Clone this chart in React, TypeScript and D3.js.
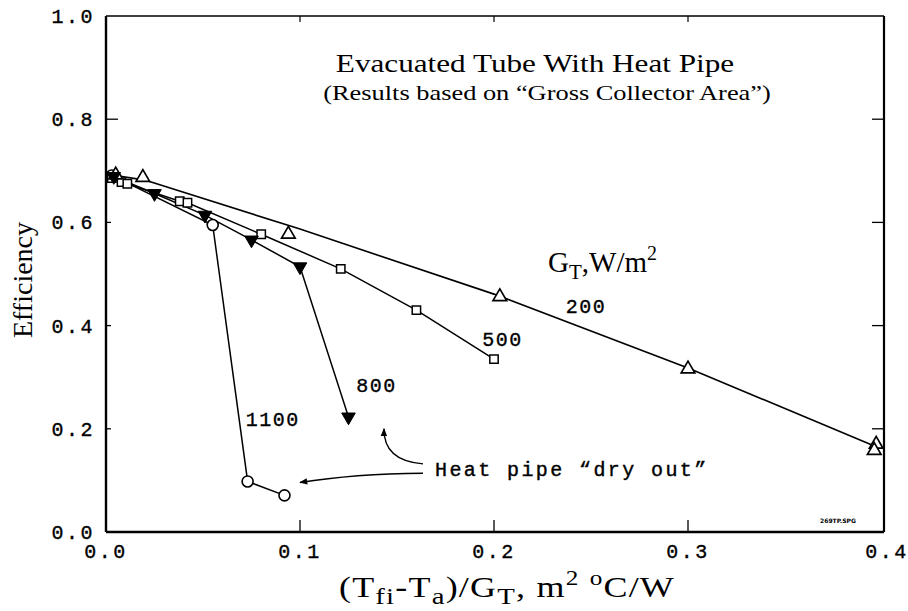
import React from "react";
import * as d3 from "d3";

const W = 908;
const H = 611;

const xTicks = [0.0, 0.1, 0.2, 0.3, 0.4];
const yTicks = [0.0, 0.2, 0.4, 0.6, 0.8, 1.0];

// G_T = 200 W/m2 (open up-triangles)
const s200x = [0.005, 0.019, 0.094, 0.203, 0.3, 0.397, 0.396];
const s200y = [0.692, 0.687, 0.577, 0.456, 0.316, 0.17, 0.158];
// fitted line for 200
const fit200x = [0.005, 0.02, 0.1, 0.2, 0.3, 0.397];
const fit200y = [0.691, 0.682, 0.587, 0.461, 0.318, 0.165];

// G_T = 500 (open squares)
const s500x = [0.003, 0.008, 0.011, 0.038, 0.042, 0.08, 0.121, 0.16, 0.2];
const s500y = [0.686, 0.678, 0.675, 0.641, 0.638, 0.577, 0.51, 0.43, 0.335];

// G_T = 800 (filled down-triangles)
const s800x = [0.004, 0.025, 0.051, 0.075, 0.1, 0.125];
const s800y = [0.689, 0.656, 0.614, 0.566, 0.514, 0.223];

// G_T = 1100 (open circles)
const s1100x = [0.003, 0.055, 0.073, 0.092];
const s1100y = [0.691, 0.595, 0.098, 0.071];

const seriesLabels = ["200", "500", "800", "1100"];
const labelX = [0.237, 0.194, 0.129, 0.072];
const labelY = [0.425, 0.36, 0.272, 0.205];

const left = 106, right = 882, top = 16, bottom = 532;

const x = d3.scaleLinear().domain([0, 0.4]).range([left, right]);
const y = d3.scaleLinear().domain([0, 1]).range([bottom, top]);

const pts = (xs: number[], ys: number[]) => xs.map((v, i) => [v, ys[i]] as [number, number]);
const line = d3.line<[number, number]>().x((d) => x(d[0])).y((d) => y(d[1]));

const mono = "'Liberation Mono', 'DejaVu Sans Mono', monospace";
const serif = "'Liberation Serif', 'DejaVu Serif', serif";

const triUp = d3.symbol().type(d3.symbolTriangle).size(80);
const triDown = d3.symbol().type(d3.symbolTriangle).size(80);
const sq = d3.symbol().type(d3.symbolSquare).size(70);

const SX = 1.2; // horizontal stretch of the scanned lettering

export default function App() {
  const p200 = pts(s200x, s200y);
  const pf200 = pts(fit200x, fit200y);
  const p500 = pts(s500x, s500y);
  const p800 = pts(s800x, s800y);
  const p1100 = pts(s1100x, s1100y);

  // annotation arrows in data space
  const a1s: [number, number] = [0.1634, 0.114];
  const a1c: [number, number] = [0.128, 0.113];
  const a1e: [number, number] = [0.1, 0.096];
  const a2s: [number, number] = [0.1634, 0.132];
  const a2c: [number, number] = [0.143, 0.138];
  const a2e: [number, number] = [0.1433, 0.2];

  const qPath = (s: [number, number], c: [number, number], e: [number, number]) =>
    `M${x(s[0])},${y(s[1])} Q${x(c[0])},${y(c[1])} ${x(e[0])},${y(e[1])}`;

  return (
    <svg
      width={W}
      height={H}
      style={{ position: "absolute", left: 0, top: 0, background: "#fff" }}
    >
      <defs>
        <marker id="ah" viewBox="0 0 10 10" refX="9" refY="5" markerWidth="12" markerHeight="8" markerUnits="userSpaceOnUse" orient="auto">
          <path d="M0,1 L10,5 L0,9 Z" fill="#000" />
        </marker>
      </defs>
      <rect x={0} y={0} width={W} height={H} fill="#fff" />

      {/* frame */}
      <line x1={left} y1={top} x2={right + 2} y2={top} stroke="#000" strokeWidth={1.6} />
      <line x1={left} y1={top} x2={left} y2={bottom} stroke="#000" strokeWidth={2.4} />
      <line x1={left} y1={bottom} x2={right + 2} y2={bottom} stroke="#000" strokeWidth={2.4} />
      <line x1={right + 2} y1={top} x2={right + 2} y2={bottom} stroke="#000" strokeWidth={2.2} />

      {/* ticks */}
      {xTicks.slice(1, -1).map((t) => (
        <g key={"xt" + t}>
          <line x1={x(t)} x2={x(t)} y1={bottom} y2={bottom - 12} stroke="#000" strokeWidth={1.3} />
          <line x1={x(t)} x2={x(t)} y1={top} y2={top + 6} stroke="#000" strokeWidth={1.2} />
        </g>
      ))}
      {yTicks.slice(1, -1).map((t) => (
        <g key={"yt" + t}>
          <line x1={left} x2={left + (t === 0.8 ? 12 : 5)} y1={y(t)} y2={y(t)} stroke="#000" strokeWidth={1.3} />
          <line x1={right + 2} x2={right - 10} y1={y(t)} y2={y(t)} stroke="#000" strokeWidth={1.3} />
        </g>
      ))}

      {/* tick labels */}
      {xTicks.map((t) => (
        <text
          key={"xl" + t}
          x={x(t) + (t === 0.4 ? 5 : 0)}
          y={558}
          textAnchor="middle"
          fontFamily={mono}
          fontSize={20}
          letterSpacing={2.5}
          stroke="#000"
          strokeWidth={0.35}
        >
          {t.toFixed(1)}
        </text>
      ))}
      {yTicks.map((t) => (
        <text
          key={"yl" + t}
          x={95}
          y={y(t) + 7}
          textAnchor="end"
          fontFamily={mono}
          fontSize={20}
          letterSpacing={2.5}
          stroke="#000"
          strokeWidth={0.35}
        >
          {t.toFixed(1)}
        </text>
      ))}

      {/* lines */}
      <path d={line(pf200) || ""} fill="none" stroke="#000" strokeWidth={1.6} />
      <path d={line(p500) || ""} fill="none" stroke="#000" strokeWidth={1.5} />
      <path d={line(p800) || ""} fill="none" stroke="#000" strokeWidth={1.5} />
      <path d={line(p1100) || ""} fill="none" stroke="#000" strokeWidth={1.5} />

      {/* markers */}
      {p1100.map((d, i) => (
        <circle key={"c" + i} cx={x(d[0])} cy={y(d[1])} r={5.5} fill="#fff" stroke="#000" strokeWidth={1.6} />
      ))}
      {p500.map((d, i) => (
        <path key={"s" + i} d={sq() || ""} transform={`translate(${x(d[0])},${y(d[1])})`} fill="#fff" stroke="#000" strokeWidth={1.5} />
      ))}
      {p200.map((d, i) => (
        <path key={"t" + i} d={triUp() || ""} transform={`translate(${x(d[0])},${y(d[1])})`} fill="#fff" stroke="#000" strokeWidth={1.7} />
      ))}
      {p800.map((d, i) => (
        <path key={"v" + i} d={triDown() || ""} transform={`translate(${x(d[0])},${y(d[1])}) rotate(180)`} fill="#000" stroke="#000" strokeWidth={1} />
      ))}

      {/* series labels */}
      {seriesLabels.map((s, i) => (
        <text key={"sl" + s} x={x(labelX[i])} y={y(labelY[i])} fontFamily={mono} fontSize={20} letterSpacing={1.5} stroke="#000" strokeWidth={0.35}>
          {s}
        </text>
      ))}

      {/* G_T label */}
      <text x={548} y={272} fontFamily={serif} fontSize={29}>
        G<tspan fontSize={21} dy={7}>T</tspan>
        <tspan dy={-7}>,W/m</tspan>
        <tspan fontSize={20} dy={-12}>2</tspan>
      </text>

      {/* title */}
      <text transform={`translate(535,72) scale(${SX},1)`} textAnchor="middle" fontFamily={serif} fontSize={26}>
        Evacuated Tube With Heat Pipe
      </text>
      <text transform={`translate(547,100) scale(${SX},1)`} textAnchor="middle" fontFamily={serif} fontSize={22}>
        (Results based on “Gross Collector Area”)
      </text>

      {/* annotation */}
      <text x={435} y={476} fontFamily={mono} fontSize={20} letterSpacing={2.4} stroke="#000" strokeWidth={0.4}>
        Heat pipe “dry out”
      </text>
      <path d={qPath(a1s, a1c, a1e)} fill="none" stroke="#000" strokeWidth={1.4} markerEnd="url(#ah)" />
      <path d={qPath(a2s, a2c, a2e)} fill="none" stroke="#000" strokeWidth={1.4} markerEnd="url(#ah)" />

      <text x={838} y={523} textAnchor="middle" fontFamily="'DejaVu Sans'" fontWeight="bold" fontSize={6}>
        269TP.SPG
      </text>

      {/* axis titles */}
      <text
        transform={`translate(32,${(top + bottom) / 2 + 6}) rotate(-90)`}
        textAnchor="middle"
        fontFamily={serif}
        fontSize={28}
      >
        Efficiency
      </text>
      <text transform={`translate(507,597) scale(${SX},1)`} textAnchor="middle" fontFamily={serif} fontSize={30} letterSpacing={1}>
        (T<tspan fontSize={24} dy={7}>fi</tspan>
        <tspan dy={-7}>-T</tspan>
        <tspan fontSize={24} dy={7}>a</tspan>
        <tspan dy={-7}>)/G</tspan>
        <tspan fontSize={24} dy={7}>T</tspan>
        <tspan dy={-7}>, m</tspan>
        <tspan fontSize={21} dy={-12}>2</tspan>
        <tspan dy={12}> </tspan>
        <tspan fontSize={21} dy={-12}>o</tspan>
        <tspan dy={12}>C/W</tspan>
      </text>
    </svg>
  );
}
